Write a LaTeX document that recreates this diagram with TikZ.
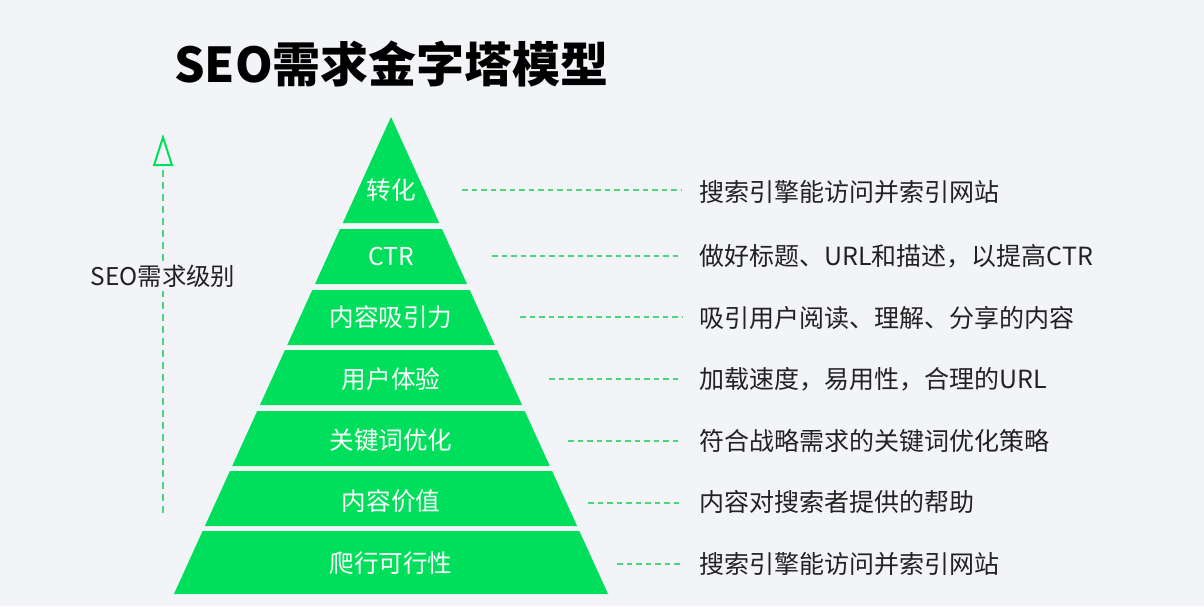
\documentclass[tikz,border=0pt]{standalone}
\usepackage{fontspec}
\setmainfont{Noto Sans CJK SC}
\usetikzlibrary{arrows.meta}
\definecolor{bg}{HTML}{F3F4F8}
\definecolor{pyrgreen}{HTML}{00DF5B}
\definecolor{dashgreen}{HTML}{4CD67C}
\definecolor{txt}{HTML}{222222}
\newcommand\pyrlayer[2]{%
  \pgfmathsetmacro\wa{(#1-117)*0.455}%
  \pgfmathsetmacro\wb{(#2-117)*0.455}%
  \fill[pyrgreen] ({391-\wa},#1) -- ({391+\wa},#1) -- ({391+\wb},#2) -- ({391-\wb},#2) -- cycle;}
\begin{document}
\begin{tikzpicture}[x=1pt,y=-1pt,
  lvl/.style={text=white,font=\fontsize{24.6}{28}\selectfont,inner sep=0pt},
  desc/.style={text=txt,font=\fontsize{25}{29}\selectfont,inner sep=0pt,anchor=west},
  lead/.style={draw=dashgreen,line width=1.7pt,dash pattern=on 5.5pt off 4pt}]
\fill[bg] (0,0) rectangle (1204,606);
\useasboundingbox (0,0) rectangle (1204,606);
% title
\node[anchor=west,inner sep=0pt,font=\fontsize{48}{55}\selectfont\bfseries,text=black] (title) at (174,64) {SEO需求金字塔模型};
% pyramid
\fill[pyrgreen] (391,117) -- ({391+106*0.455},223) -- ({391-106*0.455},223) -- cycle;
\pyrlayer{229}{284}
\pyrlayer{290}{345}
\pyrlayer{350}{405}
\pyrlayer{411}{466}
\pyrlayer{471}{526}
\pyrlayer{531}{594}
% level labels
\node[lvl] (l1) at (391,190) {转化};
\node[lvl] (l2) at (391,256) {CTR};
\node[lvl] (l3) at (391,317) {内容吸引力};
\node[lvl] (l4) at (391,379) {用户体验};
\node[lvl] (l5) at (391,440) {关键词优化};
\node[lvl] (l6) at (391,501) {内容价值};
\node[lvl] (l7) at (391,563) {爬行可行性};
% descriptions
\node[desc] (r1) at (699,192) {搜索引擎能访问并索引网站};
\node[desc] (r2) at (699,256) {做好标题、URL和描述，以提高CTR};
\node[desc] (r3) at (699,318) {吸引用户阅读、理解、分享的内容};
\node[desc] (r4) at (699,379) {加载速度，易用性，合理的URL};
\node[desc] (r5) at (699,441) {符合战略需求的关键词优化策略};
\node[desc] (r6) at (699,502) {内容对搜索者提供的帮助};
\node[desc] (r7) at (699,564) {搜索引擎能访问并索引网站};
% leaders
\coordinate (d1) at (462,190);
\coordinate (d2) at (492,256);
\coordinate (d3) at (520,317);
\coordinate (d4) at (549,379);
\coordinate (d5) at (568,441);
\coordinate (d6) at (588,503);
\coordinate (d7) at (617,564);
\foreach \i/\y in {1/190,2/256,3/317,4/379,5/441,6/503,7/564}
  \draw[lead] (d\i) -- (682,\y);
% vertical arrow
\coordinate (abot) at (163,513);
\coordinate (atop) at (163,134);
\draw[draw=dashgreen,line width=2pt,dash pattern=on 7pt off 5pt,
  -{Triangle[open,length=32pt,width=20pt,line width=2pt,color=pyrgreen]}] (abot) -- (atop);
\node[fill=bg,inner xsep=2pt,inner ysep=4pt,text=txt,font=\fontsize{24.4}{28}\selectfont] (axis) at (163,276) {SEO需求级别};
\end{tikzpicture}
\end{document}
